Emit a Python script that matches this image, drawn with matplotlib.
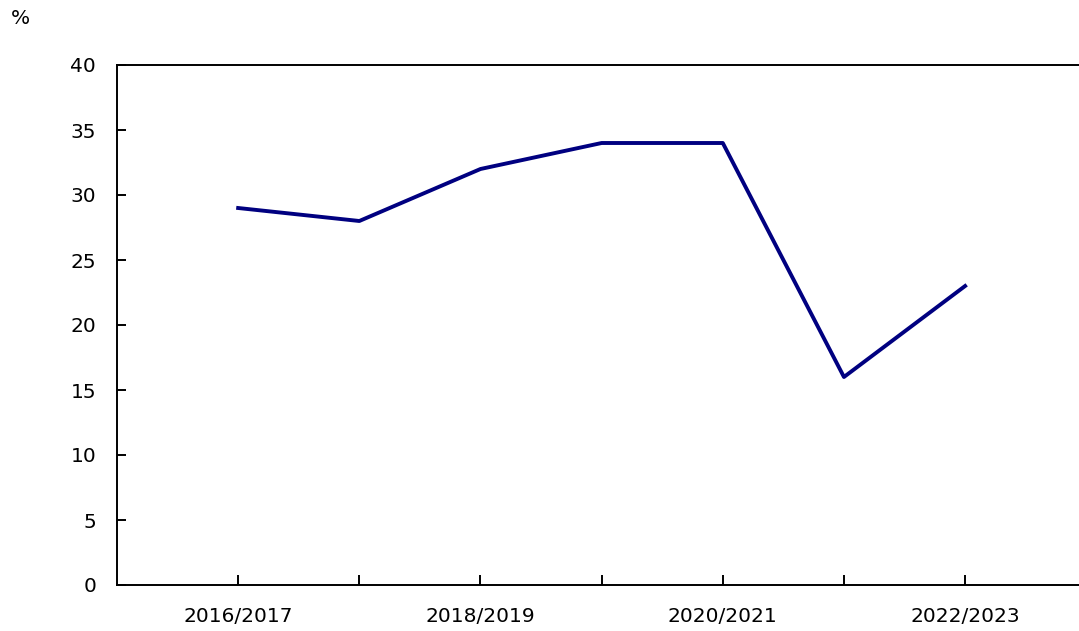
import numpy as np
import matplotlib.pyplot as plt

years = ['2016/2017', '2017/2018', '2018/2019', '2019/2020',
         '2020/2021', '2021/2022', '2022/2023']
valores = [29, 28, 32, 34, 34, 16, 23]
etiquetas = ['2016/2017', '', '2018/2019', '', '2020/2021', '', '2022/2023']

fig = plt.figure(figsize=(10.79, 6.31), dpi=100)
ax = fig.add_axes([117/1079, 46/631, 962/1079, 520/631])

x = np.arange(len(years))
ax.plot(x, valores, color='#000080', linewidth=2.8)

ax.set_xlim(-1, 6.94)
ax.set_ylim(0, 40)
ax.set_yticks(range(0, 41, 5))
ax.set_xticks(x)
ax.set_xticklabels(etiquetas)

ax.spines['right'].set_visible(False)
for s in ['top', 'left', 'bottom']:
    ax.spines[s].set_linewidth(1.4)
ax.tick_params(axis='x', direction='in', length=7, width=1.4, labelsize=14.5, pad=16)
ax.tick_params(axis='y', direction='in', length=6.5, width=1.4, labelsize=14.5, pad=15)

fig.text(20/1079, 1 - 18/631, '%', fontsize=14.5, ha='center', va='center')

fig.savefig('out.png', dpi=100)
